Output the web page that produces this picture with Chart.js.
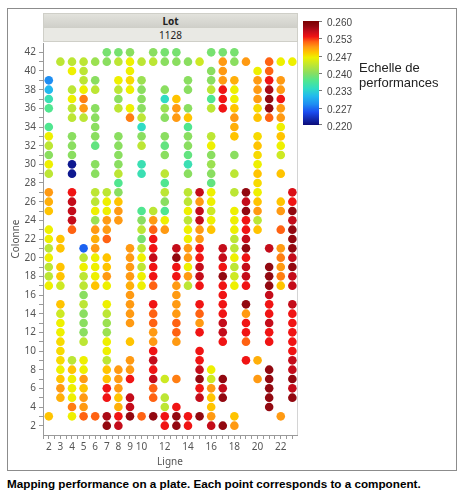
<!DOCTYPE html>
<html>
<head>
<meta charset="utf-8">
<script src="https://cdn.jsdelivr.net/npm/chart.js@4.4.1/dist/chart.umd.min.js"></script>
<style>
  body { margin: 0; background: #fff; width: 466px; height: 496px; overflow: hidden; position: relative; font-family: 'Liberation Sans', Arial, sans-serif; }
  #frame { position: absolute; left: 7px; top: 8px; width: 448px; height: 461px; border: 1px solid #8c8c8c; }
  #wrap { position: absolute; left: 0; top: 0; width: 466px; height: 470px; }
  .band { position: absolute; left: 43px; width: 255px; height: 15px; text-align: center; font: 10px 'Noto Sans', sans-serif; line-height: 14px; color: #222; border: 1px solid #cfcfc8; box-sizing: border-box; }
  #lot { top: 13px; background: linear-gradient(#e2e2dc, #d0d0ca); font-weight: bold; }
  #lotval { top: 27px; background: #e9e9e4; }
  #plotedge { position: absolute; left: 297px; top: 41px; width: 1px; height: 395px; background: #d4d4d4; }
  #cbar { position: absolute; left: 303px; top: 21px; width: 16px; height: 104px; }
  .cl { position: absolute; left: 327px; font-size: 10px; color: #444; line-height: 10px; margin-top: -5px; }
  .ct { position: absolute; left: 319px; width: 3px; height: 1px; background: #777; }
  #ctitle { position: absolute; left: 359px; top: 60px; font-size: 13px; line-height: 15px; color: #222; }
  #caption { position: absolute; left: 7px; top: 477px; font-size: 11.7px; font-weight: bold; color: #000; white-space: nowrap; }
</style>
</head>
<body>
<div id="frame"></div>
<div id="plotedge"></div>
<div class="band" id="lot">Lot</div>
<div class="band" id="lotval">1128</div>
<div id="wrap"><canvas id="chart"></canvas></div>
<div id="cbar"></div>
<div id="ctitle">Echelle de<br>performances</div>
<div id="caption">Mapping performance on a plate. Each point corresponds to a component.</div>
<script>
  // [colonne, performance] per ligne
  const L2 = [[3,.248],[17,.246],[18,.243],[19,.243],[20,.246],[21,.243],[22,.246],[23,.246],[25,.248],[26,.249],[27,.250],[29,.243],[30,.246],[31,.240],[32,.243],[33,.246],[34,.237],[36,.237],[37,.235],[38,.231],[39,.228]];
  const L3 = [[5,.249],[6,.250],[7,.248],[8,.246],[9,.247],[10,.247],[11,.247],[12,.246],[13,.246],[14,.244],[15,.248],[17,.244],[18,.248],[19,.248],[21,.248],[22,.248],[41,.243]];
  const L4 = [[3,.246],[4,.251],[5,.246],[6,.246],[7,.246],[8,.248],[9,.243],[23,.252],[24,.256],[25,.256],[26,.256],[27,.254],[29,.221],[30,.221],[31,.240],[32,.240],[33,.240],[35,.243],[36,.243],[37,.246],[38,.243],[40,.246],[41,.243]];
  const L5 = [[3,.252],[4,.250],[5,.250],[6,.248],[7,.250],[8,.246],[9,.246],[11,.243],[12,.240],[13,.240],[14,.240],[15,.243],[16,.240],[17,.243],[18,.243],[19,.246],[20,.243],[21,.226],[35,.243],[36,.250],[37,.251],[38,.246],[39,.243],[40,.243],[41,.243]];
  const L6 = [[3,.252],[17,.248],[18,.246],[19,.246],[20,.246],[21,.250],[22,.249],[23,.250],[24,.241],[25,.246],[26,.243],[27,.243],[29,.240],[30,.240],[32,.238],[33,.240],[34,.240],[35,.240],[36,.240],[38,.243],[39,.240],[41,.241]];
  const L7 = [[2,.258],[3,.257],[5,.254],[6,.254],[7,.248],[8,.248],[9,.243],[10,.246],[11,.246],[12,.241],[13,.241],[14,.243],[15,.246],[17,.246],[18,.250],[19,.248],[20,.248],[22,.252],[23,.250],[24,.250],[25,.246],[26,.246],[27,.243],[41,.240],[42,.239]];
  const L8 = [[2,.256],[3,.254],[4,.249],[5,.248],[6,.250],[7,.250],[8,.250],[24,.250],[25,.250],[26,.248],[27,.240],[28,.237],[29,.243],[30,.240],[31,.240],[32,.240],[33,.240],[36,.243],[37,.240],[38,.243],[39,.246],[41,.243],[42,.239]];
  const L9 = [[3,.258],[4,.256],[5,.256],[7,.254],[8,.250],[9,.250],[11,.248],[13,.250],[14,.250],[15,.250],[16,.250],[17,.249],[18,.250],[19,.250],[20,.250],[21,.250],[35,.251],[36,.246],[38,.246],[39,.247],[40,.246],[41,.246],[42,.240]];
  const L10 = [[3,.252],[17,.246],[18,.246],[19,.243],[20,.246],[21,.243],[22,.239],[23,.243],[24,.240],[25,.237],[29,.235],[30,.235],[32,.243],[33,.240],[34,.234],[35,.243],[36,.240],[37,.240],[38,.240],[39,.241],[41,.243]];
  const L11 = [[3,.258],[5,.252],[6,.252],[7,.256],[8,.254],[9,.256],[10,.254],[11,.250],[12,.250],[13,.252],[14,.252],[15,.254],[17,.252],[18,.254],[19,.254],[20,.256],[21,.254],[22,.254],[23,.252],[24,.250],[25,.243],[41,.243],[42,.240]];
  const L12 = [[2,.254],[3,.254],[4,.243],[5,.243],[7,.244],[23,.250],[24,.246],[25,.237],[26,.240],[27,.243],[28,.237],[29,.243],[31,.240],[32,.238],[33,.240],[35,.240],[36,.241],[37,.234],[38,.240],[41,.240],[42,.239]];
  const L13 = [[2,.258],[3,.258],[4,.254],[7,.251],[11,.250],[12,.252],[13,.252],[14,.250],[15,.250],[16,.250],[17,.250],[18,.254],[19,.254],[20,.258],[21,.256],[35,.250],[36,.250],[37,.248],[41,.240],[42,.239]];
  const L14 = [[2,.254],[3,.254],[17,.243],[18,.250],[19,.246],[20,.250],[21,.250],[22,.246],[23,.246],[24,.243],[25,.246],[26,.243],[27,.243],[29,.240],[30,.235],[31,.238],[32,.240],[33,.240],[34,.237],[35,.248],[36,.240],[38,.240],[39,.240],[41,.240]];
  const L15 = [[3,.258],[5,.256],[6,.254],[7,.258],[8,.256],[9,.254],[10,.254],[12,.254],[13,.250],[14,.252],[15,.254],[17,.254],[18,.256],[19,.256],[20,.254],[21,.254],[22,.250],[23,.250],[24,.256],[25,.256],[26,.250],[27,.256],[41,.244]];
  const L16 = [[2,.256],[3,.250],[4,.248],[5,.248],[6,.250],[7,.244],[8,.246],[23,.248],[24,.246],[25,.244],[26,.246],[27,.246],[28,.238],[29,.240],[30,.241],[31,.240],[32,.246],[33,.243],[36,.243],[37,.237],[38,.243],[39,.240],[40,.240],[42,.239]];
  const L17 = [[2,.258],[5,.258],[6,.256],[7,.258],[11,.254],[12,.256],[13,.256],[14,.254],[15,.254],[16,.254],[17,.254],[18,.258],[19,.254],[20,.256],[21,.256],[36,.254],[37,.254],[38,.254],[39,.250],[40,.250],[41,.250],[42,.239]];
  const L18 = [[2,.250],[3,.248],[17,.246],[18,.244],[19,.243],[20,.246],[21,.243],[22,.243],[23,.246],[24,.246],[25,.246],[27,.243],[29,.243],[31,.240],[33,.248],[34,.249],[35,.250],[36,.248],[37,.246],[38,.246],[39,.249],[41,.240],[42,.239]];
  const L19 = [[9,.254],[11,.252],[12,.254],[13,.254],[14,.250],[15,.258],[17,.254],[18,.256],[19,.256],[20,.254],[21,.258],[22,.256],[23,.254],[24,.254],[25,.258],[26,.256],[27,.258],[41,.250]];
  const L20 = [[7,.250],[9,.249],[23,.248],[24,.243],[25,.250],[26,.248],[27,.246],[28,.247],[29,.248],[30,.246],[31,.247],[32,.248],[33,.247],[35,.248],[36,.247],[37,.250],[38,.250],[39,.250],[40,.246]];
  const L21 = [[4,.258],[5,.258],[6,.258],[7,.258],[8,.258],[11,.254],[12,.254],[13,.256],[14,.254],[15,.254],[16,.256],[17,.258],[18,.258],[19,.258],[21,.256],[35,.252],[36,.258],[37,.258],[38,.257],[39,.254],[40,.252],[41,.252]];
  const L22 = [[3,.250],[17,.248],[18,.251],[19,.250],[20,.251],[21,.250],[23,.252],[25,.250],[26,.248],[29,.248],[31,.244],[32,.246],[33,.248],[34,.246],[35,.250],[36,.250],[37,.254],[38,.250],[39,.250],[41,.246]];
  const L23 = [[5,.258],[6,.256],[7,.258],[8,.256],[9,.256],[10,.254],[11,.254],[12,.254],[13,.254],[14,.254],[15,.256],[17,.256],[18,.256],[19,.258],[20,.256],[21,.258],[22,.258],[23,.258],[24,.256],[25,.258],[26,.254],[27,.255],[41,.246]];

  const lignes = [2, 3, 4, 5, 6, 7, 8, 9, 10, 11, 12, 13, 14, 15, 16, 17, 18, 19, 20, 21, 22, 23];
  const plate = [L2, L3, L4, L5, L6, L7, L8, L9, L10, L11, L12, L13, L14, L15, L16, L17, L18, L19, L20, L21, L22, L23];

  const xTickLabels = [2, 3, 4, 5, 6, 7, 8, 9, 10, 12, 14, 16, 18, 20, 22];
  const scaleLabels = ['0.260', '0.253', '0.247', '0.240', '0.233', '0.227', '0.220'];
  const perfMin = 0.220;
  const perfMax = 0.260;

  // colour ramp (value -> colour), roughly JMP's blue-to-red scale
  const stopVals = [0.220, 0.225, 0.228, 0.231, 0.234, 0.237, 0.240, 0.243, 0.246, 0.248, 0.250, 0.252, 0.254, 0.256, 0.258, 0.260];
  const stopCols = ['#0c0c78', '#1a4cf0', '#1e8ef2', '#22b8ee', '#30dcc4', '#50e690', '#8ade60', '#bce634', '#eef000', '#ffc400', '#ff9a12', '#ff6212', '#f01414', '#c40c1a', '#920810', '#7a0000'];

  function hexToRgb(h) {
    return [1, 3, 5].map(i => parseInt(h.slice(i, i + 2), 16));
  }

  function perfColor(v) {
    if (v <= stopVals[0]) return stopCols[0];
    for (let i = 1; i < stopVals.length; i++) {
      if (v <= stopVals[i]) {
        const t = (v - stopVals[i - 1]) / (stopVals[i] - stopVals[i - 1]);
        const a = hexToRgb(stopCols[i - 1]);
        const b = hexToRgb(stopCols[i]);
        const c = a.map((x, k) => Math.round(x + (b[k] - x) * t));
        return `rgb(${c[0]},${c[1]},${c[2]})`;
      }
    }
    return stopCols[stopCols.length - 1];
  }

  // colour bar legend
  const cbar = document.getElementById('cbar');
  const grad = stopVals.map((v, i) => `${stopCols[i]} ${((perfMax - v) / (perfMax - perfMin) * 100).toFixed(1)}%`).reverse();
  cbar.style.background = `linear-gradient(to bottom, ${grad.join(', ')})`;
  scaleLabels.forEach((txt, i) => {
    const y = 21 + i * 104 / (scaleLabels.length - 1);
    const lab = document.createElement('div');
    lab.className = 'cl';
    lab.style.top = `${y + 2}px`;
    lab.textContent = txt;
    document.body.appendChild(lab);
    const tk = document.createElement('div');
    tk.className = 'ct';
    tk.style.top = `${Math.min(y, 124)}px`;
    document.body.appendChild(tk);
  });

  const points = [];
  lignes.forEach((l, i) => {
    plate[i].forEach(([c, v]) => points.push({ x: l, y: c, v }));
  });

  const axisGray = '#9a9a9a';
  const tickFont = { family: "'Noto Sans', sans-serif", size: 10 };

  new Chart(document.getElementById('chart'), {
    type: 'scatter',
    data: {
      datasets: [{
        data: points,
        pointRadius: 4.3,
        pointHoverRadius: 4.3,
        borderWidth: 0,
        pointBackgroundColor: points.map(p => perfColor(p.v)),
        pointBorderColor: 'rgba(0,0,0,0)'
      }]
    },
    options: {
      responsive: true,
      maintainAspectRatio: false,
      animation: false,
      events: [],
      layout: { padding: { left: 8, top: 43, right: 169, bottom: 0 } },
      plugins: { legend: { display: false }, tooltip: { enabled: false } },
      scales: {
        x: {
          type: 'linear',
          min: 1.5,
          max: 23.4,
          // a tick every half ligne, labels only on the JMP ones
          afterBuildTicks: s => {
            const t = [];
            for (let v = 1.5; v <= 23; v += 0.5) t.push({ value: v });
            s.ticks = t;
          },
          afterFit: s => { s.height = 35; },
          ticks: {
            autoSkip: false,
            maxRotation: 0,
            padding: 2,
            color: '#555',
            font: tickFont,
            callback: v => (xTickLabels.includes(v) ? String(v) : '')
          },
          grid: { drawOnChartArea: false, tickLength: 4, color: axisGray },
          border: { color: axisGray },
          title: { display: true, text: 'Ligne', color: '#555', font: tickFont, padding: { top: 0, bottom: 2 } }
        },
        y: {
          type: 'linear',
          min: 1,
          max: 43,
          afterBuildTicks: s => {
            const t = [];
            for (let v = 2; v <= 42; v++) t.push({ value: v });
            s.ticks = t;
          },
          afterFit: s => { s.width = 35; },
          ticks: {
            autoSkip: false,
            padding: 3,
            color: '#555',
            font: tickFont,
            callback: v => (v % 2 === 0 ? String(v) : '')
          },
          grid: {
            drawOnChartArea: false,
            color: axisGray,
            tickLength: 4
          },
          border: { color: axisGray },
          title: { display: true, text: 'Colonne', color: '#555', font: tickFont, padding: { top: 2, bottom: 0 } }
        }
      }
    }
  });
</script>
</body>
</html>
